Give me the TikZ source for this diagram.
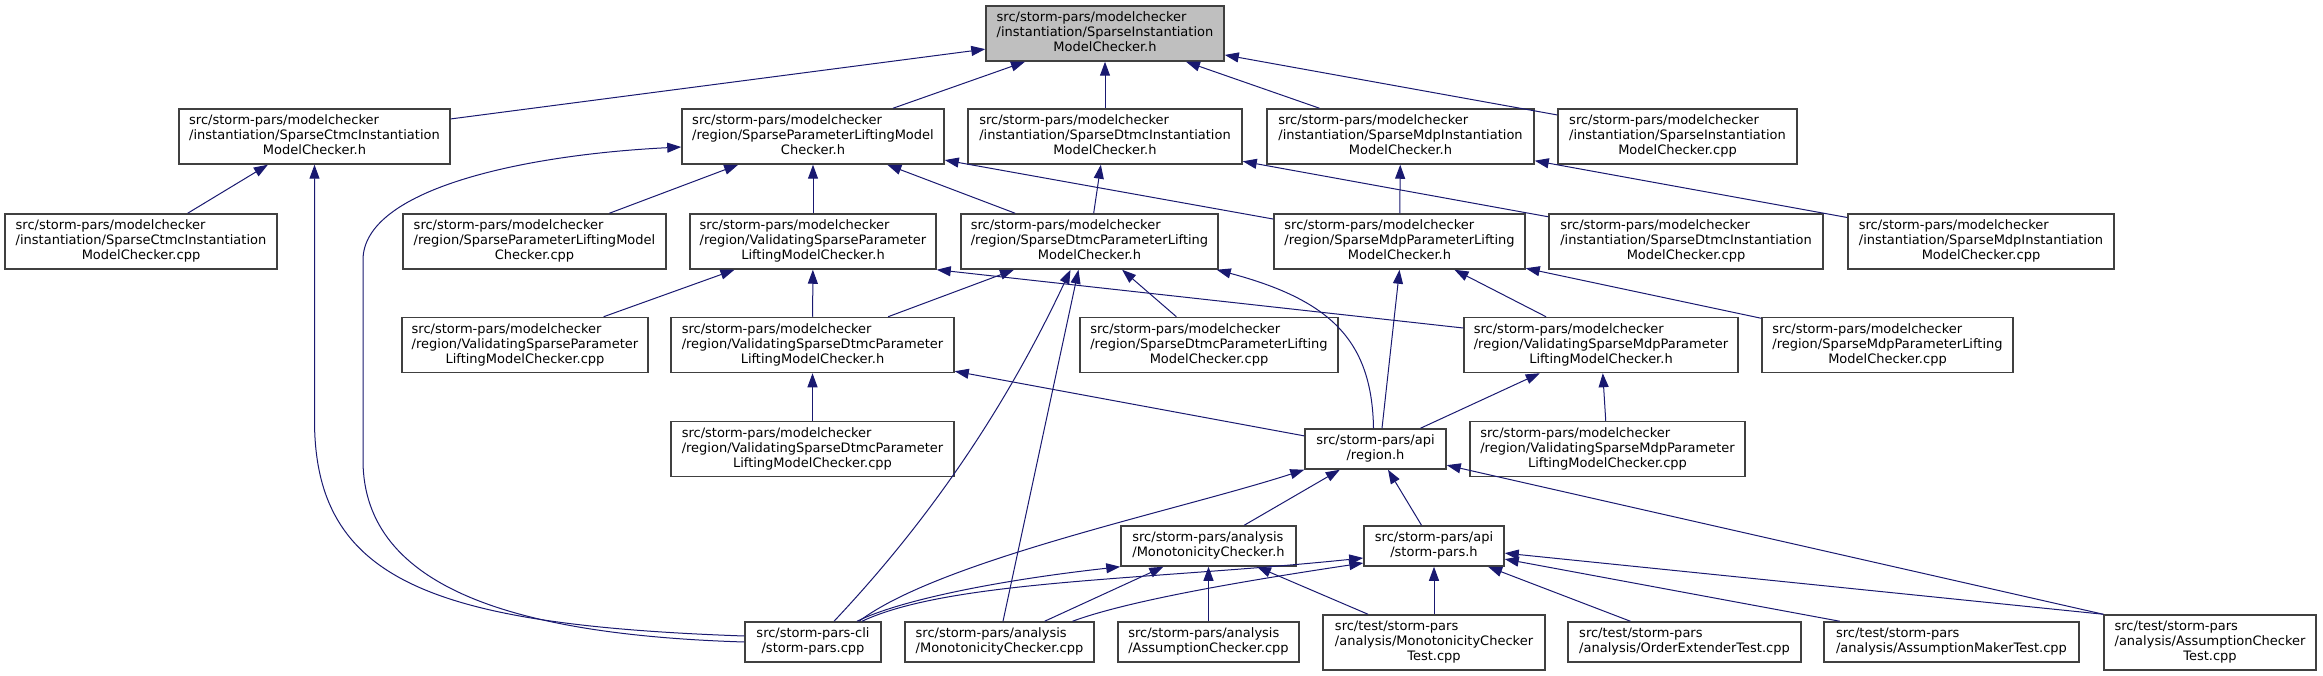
\documentclass[tikz,border=0pt]{standalone}
\usepackage{fontspec}
\setmainfont{DejaVu Sans}
\usetikzlibrary{arrows.meta}
\definecolor{edgecol}{HTML}{191970}
\definecolor{rootfill}{HTML}{BFBFBF}
\newcommand\twol[2]{\begin{tabular}{@{}l@{}}#1\\\multicolumn{1}{@{}c@{}}{#2}\end{tabular}}
\newcommand\threel[3]{\begin{tabular}{@{}l@{}}#1\\#2\\\multicolumn{1}{@{}c@{}}{#3}\end{tabular}}
\tikzset{
  nbox/.style={draw=black!75, line width=1.5pt, fill=white, inner sep=0pt, minimum height=55, font=\fontsize{13}{15}\selectfont},
  ntwo/.style={nbox, minimum height=40},
  dep/.style={draw=edgecol, line width=1pt, arrows={Triangle[length=14pt,width=10pt]}-},
}
\begin{document}
\begin{tikzpicture}[x=1pt,y=-1pt]
\useasboundingbox (0,0) rectangle (2323,676);
% row 1
\node[nbox, fill=rootfill, minimum width=238] (root) at (1105,33.5) {\threel{src/storm-pars/modelchecker}{/instantiation/SparseInstantiation}{ModelChecker.h}};
% row 2
\node[nbox, minimum width=271] (ctmch) at (314.5,136.5) {\threel{src/storm-pars/modelchecker}{/instantiation/SparseCtmcInstantiation}{ModelChecker.h}};
\node[nbox, minimum width=262] (splmch) at (813,136.5) {\threel{src/storm-pars/modelchecker}{/region/SparseParameterLiftingModel}{Checker.h}};
\node[nbox, minimum width=274] (dtmcinsth) at (1105,136.5) {\threel{src/storm-pars/modelchecker}{/instantiation/SparseDtmcInstantiation}{ModelChecker.h}};
\node[nbox, minimum width=267] (mdpinsth) at (1400.5,136.5) {\threel{src/storm-pars/modelchecker}{/instantiation/SparseMdpInstantiation}{ModelChecker.h}};
\node[nbox, minimum width=239] (instcpp) at (1677.5,136.5) {\threel{src/storm-pars/modelchecker}{/instantiation/SparseInstantiation}{ModelChecker.cpp}};
% row 3
\node[nbox, minimum width=272] (ctmccpp) at (141,241.5) {\threel{src/storm-pars/modelchecker}{/instantiation/SparseCtmcInstantiation}{ModelChecker.cpp}};
\node[nbox, minimum width=263] (splmccpp) at (534.5,241.5) {\threel{src/storm-pars/modelchecker}{/region/SparseParameterLiftingModel}{Checker.cpp}};
\node[nbox, minimum width=246] (valsplmch) at (813,241.5) {\threel{src/storm-pars/modelchecker}{/region/ValidatingSparseParameter}{LiftingModelChecker.h}};
\node[nbox, minimum width=257] (sdtmcplmch) at (1089.5,241.5) {\threel{src/storm-pars/modelchecker}{/region/SparseDtmcParameterLifting}{ModelChecker.h}};
\node[nbox, minimum width=251] (smdpplmch) at (1399.5,241.5) {\threel{src/storm-pars/modelchecker}{/region/SparseMdpParameterLifting}{ModelChecker.h}};
\node[nbox, minimum width=274] (dtmcinstcpp) at (1686,241.5) {\threel{src/storm-pars/modelchecker}{/instantiation/SparseDtmcInstantiation}{ModelChecker.cpp}};
\node[nbox, minimum width=266] (mdpinstcpp) at (1981,241.5) {\threel{src/storm-pars/modelchecker}{/instantiation/SparseMdpInstantiation}{ModelChecker.cpp}};
% row 4
\node[nbox, minimum width=246] (valsplmccpp) at (525,345) {\threel{src/storm-pars/modelchecker}{/region/ValidatingSparseParameter}{LiftingModelChecker.cpp}};
\node[nbox, minimum width=283] (valsdtmch) at (812.5,345) {\threel{src/storm-pars/modelchecker}{/region/ValidatingSparseDtmcParameter}{LiftingModelChecker.h}};
\node[nbox, minimum width=258] (sdtmcplmccpp) at (1209,345) {\threel{src/storm-pars/modelchecker}{/region/SparseDtmcParameterLifting}{ModelChecker.cpp}};
\node[nbox, minimum width=274] (valsmdph) at (1601,345) {\threel{src/storm-pars/modelchecker}{/region/ValidatingSparseMdpParameter}{LiftingModelChecker.h}};
\node[nbox, minimum width=251] (smdpplmccpp) at (1887.5,345) {\threel{src/storm-pars/modelchecker}{/region/SparseMdpParameterLifting}{ModelChecker.cpp}};
% row 5
\node[nbox, minimum width=283] (valsdtmccpp) at (812.5,449) {\threel{src/storm-pars/modelchecker}{/region/ValidatingSparseDtmcParameter}{LiftingModelChecker.cpp}};
\node[ntwo, minimum width=141] (regionh) at (1375.5,449) {\twol{src/storm-pars/api}{/region.h}};
\node[nbox, minimum width=275] (valsmdpcpp) at (1607.5,449) {\threel{src/storm-pars/modelchecker}{/region/ValidatingSparseMdpParameter}{LiftingModelChecker.cpp}};
% row 6
\node[ntwo, minimum width=175] (monoh) at (1208.5,546) {\twol{src/storm-pars/analysis}{/MonotonicityChecker.h}};
\node[ntwo, minimum width=140] (stormparsh) at (1434,546) {\twol{src/storm-pars/api}{/storm-pars.h}};
% row 7
\node[ntwo, minimum width=136] (cli) at (813,642) {\twol{src/storm-pars-cli}{/storm-pars.cpp}};
\node[ntwo, minimum width=189] (monocpp) at (999.5,642) {\twol{src/storm-pars/analysis}{/MonotonicityChecker.cpp}};
\node[ntwo, minimum width=181] (assumpcpp) at (1208.5,642) {\twol{src/storm-pars/analysis}{/AssumptionChecker.cpp}};
\node[nbox, minimum width=222] (monotest) at (1434,642.5) {\threel{src/test/storm-pars}{/analysis/MonotonicityChecker}{Test.cpp}};
\node[ntwo, minimum width=233] (ordertest) at (1684.5,642) {\twol{src/test/storm-pars}{/analysis/OrderExtenderTest.cpp}};
\node[ntwo, minimum width=255] (makertest) at (1951.5,642) {\twol{src/test/storm-pars}{/analysis/AssumptionMakerTest.cpp}};
\node[nbox, minimum width=212] (checkertest) at (2210,642.5) {\threel{src/test/storm-pars}{/analysis/AssumptionChecker}{Test.cpp}};
% edges
\draw[dep] (root) -- (ctmch);
\draw[dep] (root) -- (splmch);
\draw[dep] (root) -- (dtmcinsth);
\draw[dep] (root) -- (mdpinsth);
\draw[dep] (root) -- (instcpp);
\draw[dep] (ctmch) -- (ctmccpp);
\draw[dep] (ctmch.south) -- (314.5,420) .. controls (314.5,580) and (430,625) .. ([yshift=6pt]cli.west);
\draw[dep] ([yshift=-10.5pt]splmch.west) .. controls (520,155) and (363,190) .. (363,260) -- (363,460) .. controls (363,590) and (520,635) .. (cli.west);
\draw[dep] (splmch) -- (splmccpp);
\draw[dep] (splmch) -- (valsplmch);
\draw[dep] (splmch) -- (sdtmcplmch);
\draw[dep] (splmch) -- (smdpplmch);
\draw[dep] (dtmcinsth) -- (sdtmcplmch);
\draw[dep] (dtmcinsth) -- (dtmcinstcpp);
\draw[dep] (mdpinsth) -- (smdpplmch);
\draw[dep] (mdpinsth) -- (mdpinstcpp);
\draw[dep] (valsplmch) -- (valsplmccpp);
\draw[dep] (valsplmch) -- (valsdtmch);
\draw[dep] (valsplmch.south east) -- ([yshift=17pt]valsmdph.west);
\draw[dep] (sdtmcplmch) -- (valsdtmch);
\draw[dep] (sdtmcplmch) -- (sdtmcplmccpp);
\draw[dep] ([xshift=-2pt]sdtmcplmch.south east) .. controls (1330,300) and (1372,340) .. ([xshift=-2pt]regionh.north);
\draw[dep] ([xshift=-19pt]sdtmcplmch.south) .. controls (1000,420) and (920,530) .. ([xshift=21pt]cli.north);
\draw[dep] ([xshift=-11pt]sdtmcplmch.south) -- ([xshift=3.5pt]monocpp.north);
\draw[dep] (smdpplmch.south) -- ([xshift=6.5pt]regionh.north);
\draw[dep] (smdpplmch) -- (valsmdph);
\draw[dep] (smdpplmch) -- (smdpplmccpp);
\draw[dep] (valsdtmch) -- (valsdtmccpp);
\draw[dep] (valsdtmch) -- (regionh);
\draw[dep] (valsmdph) -- (regionh);
\draw[dep] (valsmdph) -- (valsmdpcpp);
\draw[dep] (regionh.south west) .. controls (1180,510) and (940,560) .. ([xshift=46pt]cli.north);
\draw[dep] (regionh) -- (monoh);
\draw[dep] (regionh) -- (stormparsh);
\draw[dep] (regionh) -- (checkertest.north west);
\draw[dep] (monoh.south west) .. controls (1000,580) and (900,600) .. ([xshift=44pt]cli.north);
\draw[dep] (monoh) -- (monocpp);
\draw[dep] (monoh) -- (assumpcpp);
\draw[dep] (monoh) -- (monotest);
\draw[dep] ([yshift=-12pt]stormparsh.west) .. controls (1150,580) and (950,580) .. ([xshift=49pt]cli.north);
\draw[dep] ([yshift=-17pt]stormparsh.west) .. controls (1250,580) and (1130,600) .. ([xshift=73pt]monocpp.north);
\draw[dep] (stormparsh) -- (monotest);
\draw[dep] (stormparsh) -- (ordertest);
\draw[dep] (stormparsh) -- (makertest);
\draw[dep] (stormparsh) -- (checkertest.north west);
\end{tikzpicture}
\end{document}
